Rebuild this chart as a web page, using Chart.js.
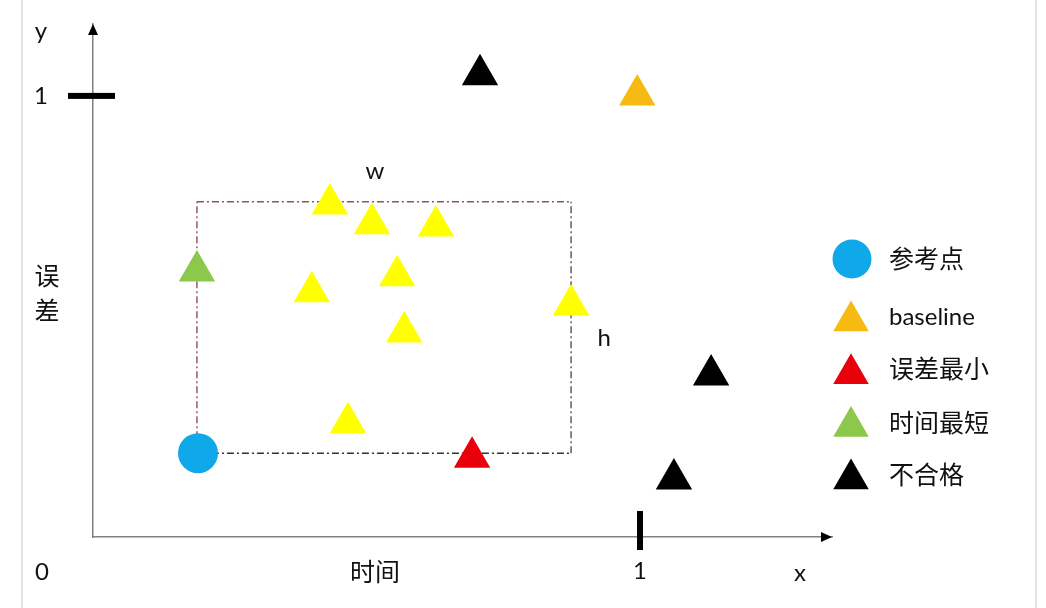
<!DOCTYPE html>
<html>
<head>
<meta charset="utf-8">
<script src="https://cdn.jsdelivr.net/npm/chart.js@4"></script>
<style>
  html, body { margin: 0; padding: 0; background: #fff; }
  #wrap { width: 1046px; height: 608px; }
</style>
</head>
<body>
<div id="wrap"><canvas id="grafica"></canvas></div>
<script>
// datos (x = 时间, y = 误差, escala 0..1)
var seriesNames = ['参考点', 'baseline', '误差最小', '时间最短', '不合格'];
var refX = [0.192], refY = [0.190];
var baselineX = [0.995], baselineY = [1.002];
var minErrX = [0.693], minErrY = [0.181];
var minTimeX = [0.190], minTimeY = [0.603];
var failX = [0.7075, 1.130, 1.062], failY = [1.048, 0.367, 0.1315];
var otherX = [0.433, 0.510, 0.627, 0.556, 0.400, 0.874, 0.569, 0.466];
var otherY = [0.755, 0.710, 0.705, 0.592, 0.556, 0.526, 0.465, 0.259];
// rectangulo w x h
var boxX = [0.19, 0.874], boxY = [0.19, 0.76];
var xTickLabels = ['1'], yTickLabels = ['1'];
var xTicks = [1], yTicks = [1];

var colores = ['#0fa8e8', '#f6ba12', '#e8000b', '#8cc84b', '#000000'];
var latin = 'Lato, "Noto Sans", sans-serif';
var cjk = '"Noto Sans CJK SC", sans-serif';

function puntos(xs, ys) {
    return xs.map(function (x, i) { return { x: x, y: ys[i] }; });
}

function serie(label, xs, ys, color, estilo, radio) {
    return {
        label: label,
        data: puntos(xs, ys),
        pointStyle: estilo,
        pointRadius: radio,
        pointHoverRadius: radio,
        backgroundColor: color,
        borderColor: color,
        borderWidth: 0,
        clip: false
    };
}

function linea(xs, ys, color) {
    return {
        type: 'line',
        data: puntos(xs, ys),
        showLine: true,
        pointRadius: 0,
        borderColor: color,
        borderWidth: 1.5,
        borderDash: [7, 3, 2, 3],
        fill: false
    };
}

var datasets = [
    serie(seriesNames[0], refX, refY, colores[0], 'circle', 20),
    serie(seriesNames[1], baselineX, baselineY, colores[1], 'triangle', 21),
    serie(seriesNames[2], minErrX, minErrY, colores[2], 'triangle', 21),
    serie(seriesNames[3], minTimeX, minTimeY, colores[3], 'triangle', 21),
    serie(seriesNames[4], failX, failY, colores[4], 'triangle', 21),
    serie('otros', otherX, otherY, '#ffff00', 'triangle', 21),
    // bordes del rectangulo (detras de los puntos)
    linea([boxX[0], boxX[1]], [boxY[1], boxY[1]], '#8a5656'),
    linea([boxX[0], boxX[0]], [boxY[0], boxY[1]], '#9a5a5a'),
    linea([boxX[1], boxX[1]], [boxY[0], boxY[1]], '#6a5a5a'),
    linea([boxX[0], boxX[1]], [boxY[0], boxY[0]], '#333333')
];

function triangulo(ctx, x, y, r) {
    var rad = 0;
    ctx.beginPath();
    for (var k = 0; k < 3; k++) {
        var px = x + Math.sin(rad) * r, py = y - Math.cos(rad) * r;
        if (k === 0) ctx.moveTo(px, py); else ctx.lineTo(px, py);
        rad += Math.PI * 2 / 3;
    }
    ctx.closePath();
    ctx.fill();
}

function texto(ctx, t, x, y, font, align) {
    ctx.font = font;
    ctx.textAlign = align || 'center';
    ctx.textBaseline = 'middle';
    ctx.fillStyle = '#111';
    ctx.fillText(t, x, y);
}

// flechas, marcas gruesas, textos y leyenda
var extras = {
    id: 'extras',
    afterDraw: function (chart) {
        var ctx = chart.ctx;
        var xs = chart.scales.x, ys = chart.scales.y;
        var x0 = xs.left, y0 = ys.bottom, xEnd = xs.right, yTop = ys.top;
        ctx.save();

        // bordes grises de la imagen
        ctx.strokeStyle = '#e4e4e4';
        ctx.lineWidth = 2;
        ctx.beginPath();
        ctx.moveTo(22, 0); ctx.lineTo(22, 608);
        ctx.moveTo(1036, 0); ctx.lineTo(1036, 608);
        ctx.stroke();

        // puntas de flecha
        ctx.fillStyle = '#000';
        ctx.beginPath();
        ctx.moveTo(xEnd, y0); ctx.lineTo(xEnd - 11, y0 - 5); ctx.lineTo(xEnd - 11, y0 + 5);
        ctx.closePath(); ctx.fill();
        ctx.beginPath();
        ctx.moveTo(x0, yTop); ctx.lineTo(x0 - 5, yTop + 11); ctx.lineTo(x0 + 5, yTop + 11);
        ctx.closePath(); ctx.fill();

        // marcas del valor 1
        xTicks.forEach(function (v) {
            var px = xs.getPixelForValue(v);
            ctx.fillRect(px - 3, y0 - 26, 6, 39);
        });
        yTicks.forEach(function (v) {
            var py = ys.getPixelForValue(v);
            ctx.fillRect(x0 - 25, py - 3, 47, 6);
        });

        // textos
        texto(ctx, 'y', 41, 31, '24px ' + latin);
        texto(ctx, '0', 42, 572, '24px ' + latin);
        texto(ctx, 'x', 800, 573, '24px ' + latin);
        texto(ctx, '时间', 375, 571, '25px ' + cjk);
        texto(ctx, '误', 47, 275, '25px ' + cjk);
        texto(ctx, '差', 47, 310, '25px ' + cjk);
        texto(ctx, 'w', (xs.getPixelForValue(boxX[0]) + xs.getPixelForValue(boxX[1])) / 2 - 9, 171, '24px ' + latin);
        texto(ctx, 'h', xs.getPixelForValue(boxX[1]) + 33, 338, '24px ' + latin);

        // leyenda
        var textoY = [258.5, 317, 368.5, 422.5, 474.5];
        seriesNames.forEach(function (nombre, i) {
            ctx.fillStyle = colores[i];
            if (i === 0) {
                ctx.beginPath();
                ctx.arc(852, 259, 19.5, 0, Math.PI * 2);
                ctx.fill();
            } else {
                triangulo(ctx, 851, 321 + (i - 1) * 52.7, 20.5);
            }
            var f = nombre === 'baseline' ? '24px ' + latin : '25px ' + cjk;
            texto(ctx, nombre, 889, textoY[i], f, 'left');
        });
        ctx.restore();
    }
};

var grafica = new Chart(document.getElementById('grafica').getContext('2d'), {
    type: 'scatter',
    data: { datasets: datasets },
    options: {
        responsive: true,
        maintainAspectRatio: false,
        animation: false,
        layout: { padding: { top: 24, right: 214, left: 0, bottom: 0 } },
        plugins: { legend: { display: false }, tooltip: { enabled: false } },
        scales: {
            x: {
                type: 'linear', min: 0, max: 1.351,
                grid: { display: false, drawTicks: false },
                border: { display: true, color: '#808080', width: 1.5 },
                afterBuildTicks: function (s) { s.ticks = xTicks.map(function (v) { return { value: v }; }); },
                afterFit: function (s) { s.height = 71; s.paddingLeft = 0; s.paddingRight = 0; },
                ticks: {
                    padding: 20, color: '#111', font: { family: latin, size: 24 },
                    callback: function (v) { var i = xTicks.indexOf(v); return i >= 0 ? xTickLabels[i] : ''; }
                }
            },
            y: {
                type: 'linear', min: 0, max: 1.163,
                grid: { display: false, drawTicks: false },
                border: { display: true, color: '#808080', width: 1.5 },
                afterBuildTicks: function (s) { s.ticks = yTicks.map(function (v) { return { value: v }; }); },
                afterFit: function (s) { s.width = 93; s.paddingTop = 0; s.paddingBottom = 0; },
                ticks: {
                    padding: 45, color: '#111', font: { family: latin, size: 24 },
                    callback: function (v) { var i = yTicks.indexOf(v); return i >= 0 ? yTickLabels[i] : ''; }
                }
            }
        }
    },
    plugins: [extras]
});
</script>
</body>
</html>
